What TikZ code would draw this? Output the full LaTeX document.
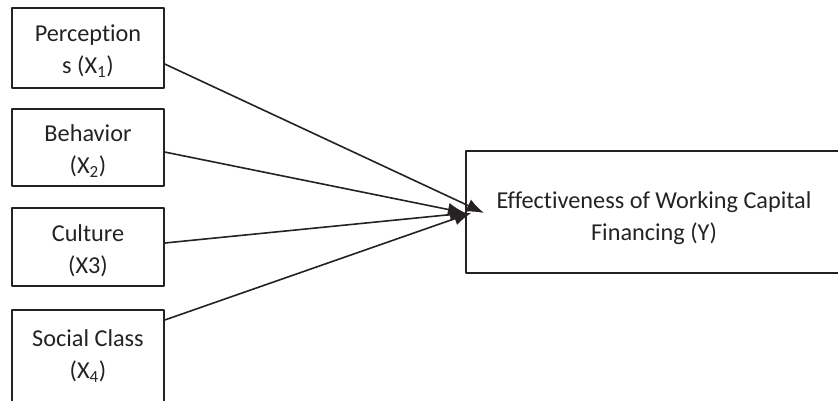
\documentclass[tikz,border=0pt]{standalone}
\usepackage{fontspec}
\setmainfont{Carlito}[Ligatures=NoCommon]
\usetikzlibrary{arrows.meta}
\definecolor{ink}{RGB}{38,34,35}
\newcommand{\topgap}[1]{\rule{0pt}{#1}}
\begin{document}
\begin{tikzpicture}[line join=round,>={Latex[length=13pt,width=10pt]},x=0.75pt,y=-0.75pt,font=\fontsize{18.2}{24}\selectfont,text=ink]
            \tikzset{box/.style={draw=ink,line width=1.1pt,align=center,inner sep=0pt,minimum width=114pt}}
            \useasboundingbox (0,0) rectangle (838,400);
            \node[box,minimum height=60pt] (X1) at (88,48) {\topgap{17pt}Perception\\s (X\textsubscript{1})};
            \node[box,minimum height=57.75pt] (X2) at (88,147.5) {\topgap{18pt}Behavior\\(X\textsubscript{2})};
            \node[box,minimum height=58.5pt] (X3) at (88,247) {\topgap{18pt}Culture\\(X3)};
            \node[box,minimum height=69pt] (X4) at (88,356) {Social Class\\(X\textsubscript{4})};
            \node[box,minimum width=282pt,minimum height=91.5pt] (Y) at (654,212) {\topgap{22pt}Effectiveness of Working Capital\\Financing (Y)};
            \foreach \s/\sy/\dx in {X1/-12/14,X2/-3.4/0,X3/3/1.5,X4/27/4.5}
            \draw[->,ink,line width=1.2pt] ([yshift=\sy pt]\s.east) -- ([xshift=\dx pt,yshift=-0.7pt]Y.west);
        \end{tikzpicture}
\end{document}
